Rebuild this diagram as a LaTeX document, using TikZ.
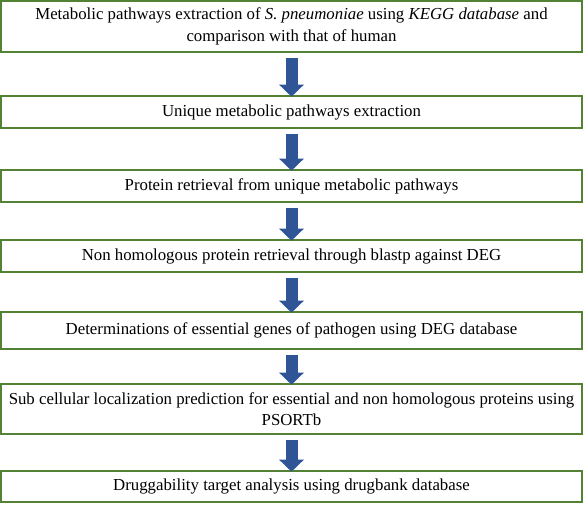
\documentclass[tikz,border=0pt]{standalone}
\usepackage{fontspec}
\setmainfont{Liberation Serif}
\usetikzlibrary{arrows.meta}
\definecolor{boxgreen}{RGB}{84,130,53}
\definecolor{arrblue}{RGB}{47,85,151}
\tikzset{
  stepbox/.style={draw=boxgreen, line width=1.6pt, minimum width=581pt, inner sep=0pt,
    align=center, font=\fontsize{16.8}{21.5}\selectfont, text=black},
  bigarrow/.style={draw=arrblue, line width=12pt, -{Triangle[width=24pt,length=12pt]}},
}
\begin{document}
\begin{tikzpicture}[x=1pt,y=1pt]
\useasboundingbox (0,0) rectangle (583,-504);
\node[stepbox, minimum height=51pt] (b1) at (291.5,-26.5) {Metabolic pathways extraction of \textit{S. pneumoniae} using \textit{KEGG database} and\\comparison with that of human};
\node[stepbox, minimum height=32pt] (b2) at (291.5,-112) {Unique metabolic pathways extraction};
\node[stepbox, minimum height=32pt] (b3) at (291.5,-186) {Protein retrieval from unique metabolic pathways};
\node[stepbox, minimum height=32pt] (b4) at (291.5,-256) {Non homologous protein retrieval through blastp against DEG};
\node[stepbox, minimum height=37pt] (b5) at (291.5,-330.5) {Determinations of essential genes of pathogen using DEG database};
\node[stepbox, minimum height=50pt] (b6) at (291.5,-409) {Sub cellular localization prediction for essential and non homologous proteins using\\PSORTb};
\node[stepbox, minimum height=31pt] (b7) at (291.5,-486.5) {Druggability target analysis using drugbank database};
\foreach \a/\b in {b1/b2,b2/b3,b3/b4,b4/b5,b5/b6,b6/b7}
  \draw[bigarrow] ([yshift=-5pt]\a.south) -- ([yshift=-1.5pt]\b.north);
\end{tikzpicture}
\end{document}
